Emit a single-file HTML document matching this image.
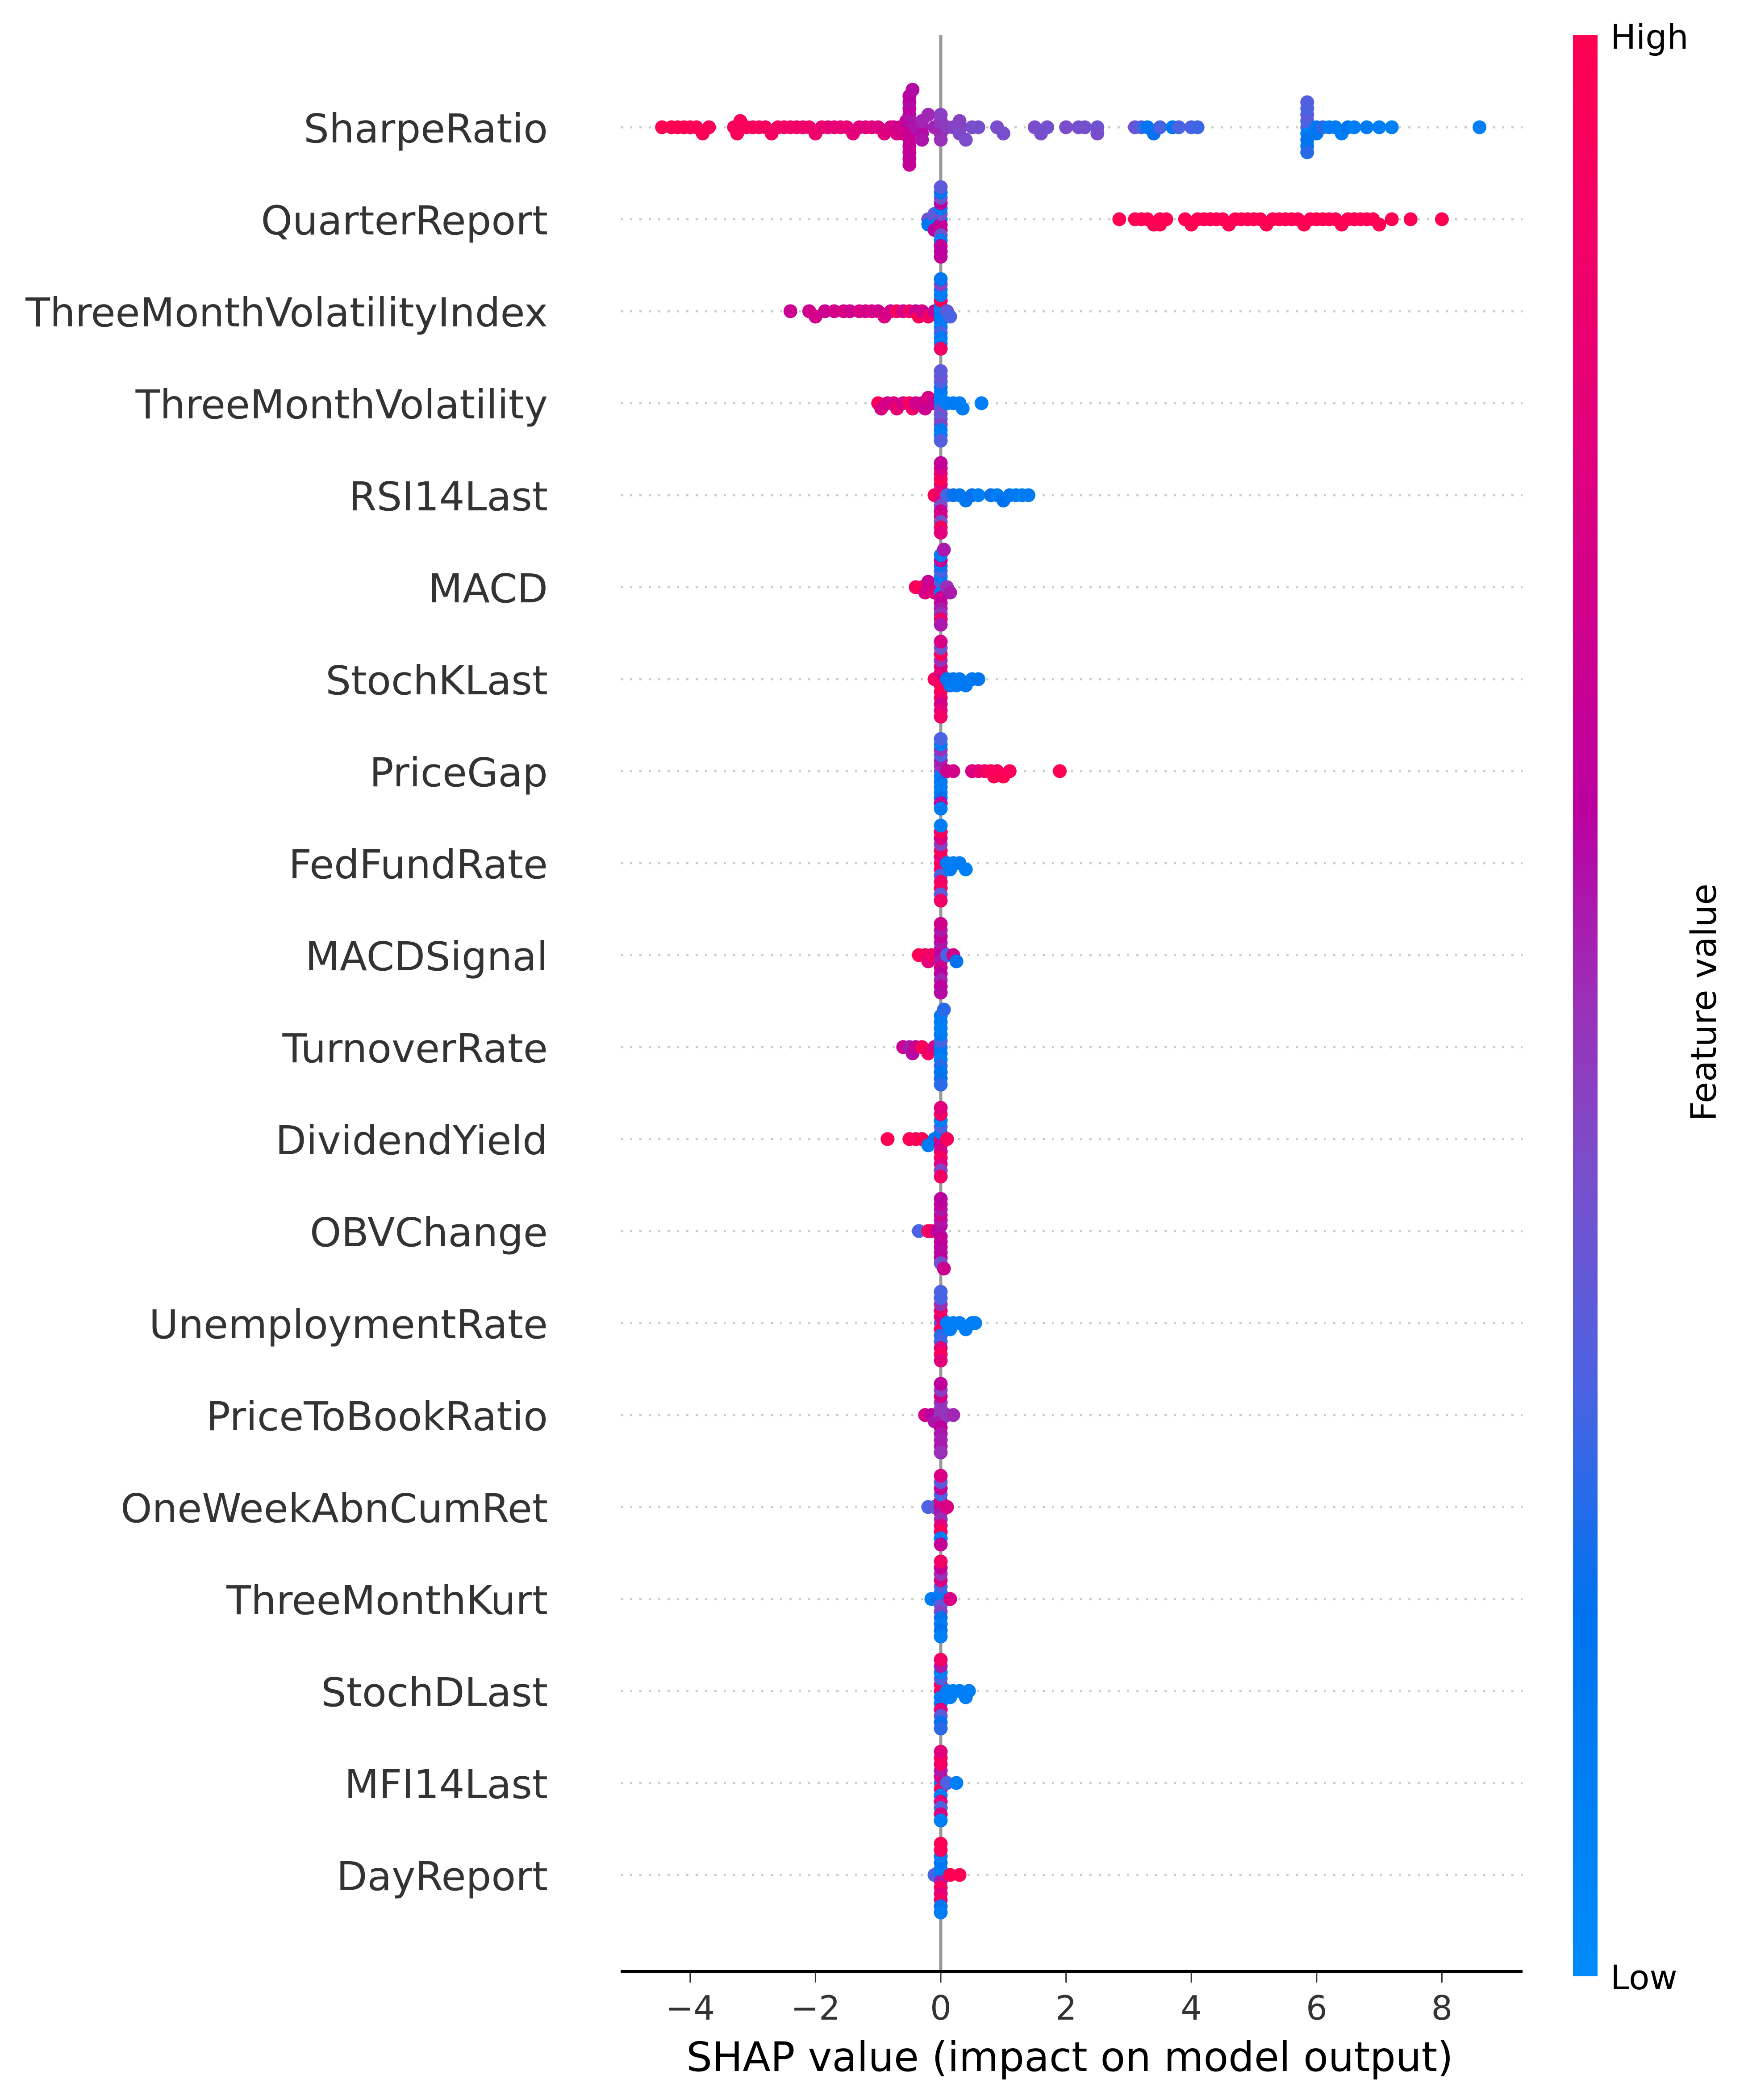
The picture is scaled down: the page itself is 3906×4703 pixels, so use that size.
<!DOCTYPE html>
<html><head><meta charset="utf-8"><style>
html,body{margin:0;padding:0;background:#fff;}
svg{display:block;}
text{font-family:"DejaVu Sans","Liberation Sans",sans-serif;}
</style></head><body>
<svg id="chart" width="3906" height="4703" viewBox="0 0 3906 4703" xmlns="http://www.w3.org/2000/svg">
<defs>
<linearGradient id="cbgrad" x1="0" y1="1" x2="0" y2="0">
<stop offset="0" stop-color="#008bfb"/><stop offset="0.19" stop-color="#0072ef"/><stop offset="0.3" stop-color="#4a63e3"/><stop offset="0.42" stop-color="#7b4dca"/><stop offset="0.5" stop-color="#9a30b8"/><stop offset="0.6" stop-color="#bb00a0"/><stop offset="0.8" stop-color="#e4007a"/><stop offset="1" stop-color="#ff0052"/>
</linearGradient>
</defs>
<g id="grid"></g>
<line x1="2107" y1="79" x2="2107" y2="4415" stroke="#999" stroke-width="7"/>
<g id="dots"></g>
<g id="ylabels"></g>
<line x1="1390" y1="4415" x2="3410" y2="4415" stroke="#000" stroke-width="6"/>
<g id="xticks"></g>
<text x="2396" y="4638" font-size="91" text-anchor="middle" fill="#000">SHAP value (impact on model output)</text>
<rect x="3523" y="79" width="55" height="4347" fill="url(#cbgrad)"/>
<text x="3607" y="109" font-size="76" fill="#000">High</text>
<text x="3607" y="4455" font-size="76" fill="#000">Low</text>
<text x="3843" y="2245" font-size="78" text-anchor="middle" fill="#000" transform="rotate(-90 3843 2245)">Feature value</text>
</svg>
<script>
const features = ["SharpeRatio","QuarterReport","ThreeMonthVolatilityIndex","ThreeMonthVolatility","RSI14Last","MACD","StochKLast","PriceGap","FedFundRate","MACDSignal","TurnoverRate","DividendYield","OBVChange","UnemploymentRate","PriceToBookRatio","OneWeekAbnCumRet","ThreeMonthKurt","StochDLast","MFI14Last","DayReport"];
const xTicks = [-4,-2,0,2,4,6,8];
const xTickLabels = ["\u22124","\u22122","0","2","4","6","8"];

const shap0 = [-4.45,-4.3,-4.2,-4.1,-4.0,-3.9,-3.8,-3.7,-3.3,-3.25,-3.2,-3.1,-3.0,-2.9,-2.8,-2.7,-2.6,-2.5,-2.4,-2.3,-2.2,-2.1,-2.0,-1.9,-1.8,-1.7,-1.6,-1.5,-1.4,-1.3,-1.2,-1.1,-1.0,-0.9,-0.8,-0.75,-0.7,-0.65,-0.6,-0.55,-0.5,-0.5,-0.5,-0.5,-0.5,-0.5,-0.5,-0.5,-0.5,-0.5,-0.5,-0.5,-0.45,-0.4,-0.3,-0.3,-0.3,-0.3,-0.2,-0.1,0,0,0,0,0,0.1,0.2,0.3,0.3,0.3,0.4,0.5,0.6,0.9,1.0,1.5,1.6,1.7,2.0,2.2,2.3,2.5,2.5,3.1,3.2,3.3,3.4,3.5,3.7,3.8,4.0,4.1,5.85,5.85,5.85,5.85,5.85,5.85,5.85,5.85,5.85,6.0,6.0,6.1,6.2,6.3,6.4,6.5,6.6,6.8,7.0,7.2,8.6];
const feat0 = [1,1,1,0.99,0.99,0.98,0.98,0.97,0.97,0.96,0.96,0.95,0.95,0.94,0.93,0.92,0.92,0.91,0.9,0.9,0.88,0.88,0.86,0.85,0.84,0.83,0.82,0.82,0.8,0.8,0.78,0.79,0.76,0.78,0.74,0.72,0.76,0.7,0.73,0.68,0.6,0.66,0.58,0.68,0.56,0.64,0.62,0.66,0.58,0.63,0.6,0.65,0.58,0.56,0.55,0.58,0.52,0.56,0.52,0.53,0.5,0.52,0.48,0.5,0.46,0.47,0.45,0.44,0.43,0.45,0.42,0.42,0.41,0.42,0.41,0.42,0.41,0.4,0.42,0.41,0.4,0.39,0.41,0.38,0.3,0.15,0.2,0.3,0.15,0.3,0.3,0.28,0.32,0.1,0.3,0.2,0.34,0.15,0.3,0.25,0.32,0.12,0.15,0.25,0.1,0.12,0.1,0.15,0.1,0.12,0.1,0.08,0.1,0.12,0.1];

const shap1 = [-0.2,-0.2,-0.1,-0.1,-0.1,-0.1,0,0,0,0,0,0,0,0,0,0,0,0,0,0,2.85,3.1,3.2,3.3,3.4,3.5,3.5,3.6,3.9,4.0,4.1,4.2,4.3,4.4,4.5,4.6,4.7,4.8,4.9,5.0,5.1,5.2,5.3,5.4,5.5,5.6,5.7,5.8,5.9,6.0,6.1,6.2,6.3,6.4,6.5,6.6,6.7,6.8,6.9,7.0,7.2,7.5,8.0];
const feat1 = [0.4,0.15,0.4,0.1,0.35,0.6,0.1,0.62,0.4,0.65,0.12,0.38,0.6,0.1,0.4,0.65,0.15,0.6,0.35,0.62,1,1,1,1,1,1,1,1,1,1,1,1,1,1,1,1,1,1,1,1,1,1,1,1,1,1,1,1,1,1,1,1,1,1,1,1,1,1,1,1,1,1,1];

const shap2 = [-2.4,-2.1,-2.0,-1.85,-1.7,-1.55,-1.45,-1.3,-1.2,-1.1,-1.0,-0.9,-0.8,-0.7,-0.6,-0.5,-0.4,-0.35,-0.3,-0.2,-0.1,0,0,0,0,0,0,0,0,0,0,0,0,0,0,0.1,0.15];
const feat2 = [0.68,0.7,0.72,0.68,0.72,0.74,0.7,0.76,0.72,0.74,0.7,0.76,0.72,0.95,0.72,0.9,0.68,0.98,0.7,0.9,0.65,0.1,0.15,0.08,0.12,0.95,0.1,0.14,0.3,0.1,0.12,0.45,0.1,0.15,0.9,0.35,0.3];

const shap3 = [-1.0,-0.95,-0.85,-0.75,-0.7,-0.6,-0.5,-0.45,-0.4,-0.3,-0.25,-0.2,-0.1,0,0,0,0,0,0,0,0,0,0,0,0,0,0,0.1,0.2,0.3,0.35,0.65];
const feat3 = [0.95,0.75,0.7,0.75,0.85,0.72,0.95,0.9,0.7,0.72,0.68,0.75,0.65,0.1,0.3,0.12,0.4,0.1,0.35,0.15,0.45,0.3,0.12,0.38,0.1,0.35,0.32,0.1,0.12,0.1,0.1,0.1];

const shap4 = [-0.1,0,0,0,0,0,0,0,0,0,0,0,0,0,0,0.1,0.2,0.3,0.4,0.5,0.6,0.8,0.9,1.0,1.1,1.2,1.3,1.4];
const feat4 = [0.95,0.95,0.75,0.9,0.42,0.8,0.68,1,0.72,0.9,0.4,0.75,0.95,0.65,0.8,0.3,0.2,0.15,0.15,0.2,0.1,0.2,0.1,0.18,0.15,0.12,0.1,0.12];

const shap5 = [-0.4,-0.3,-0.25,-0.2,-0.15,-0.1,0,0,0,0,0,0,0,0,0,0,0,0,0,0,0.05,0.1,0.15];
const feat5 = [0.95,1,0.75,0.65,0.7,0.8,0.7,0.1,0.3,0.7,0.12,0.65,0.3,0.55,0.2,0.5,0.65,0.9,0.1,0.55,0.55,0.5,0.55];

const shap6 = [-0.1,0,0,0,0,0,0,0,0,0,0,0,0,0,0.1,0.15,0.2,0.25,0.3,0.4,0.5,0.6];
const feat6 = [0.95,0.95,0.9,0.75,1,0.8,0.9,0.5,0.72,0.95,0.8,0.4,0.9,0.75,0.15,0.12,0.15,0.12,0.12,0.15,0.12,0.15];

const shap7 = [0,0,0,0,0,0,0,0,0,0,0,0,0,0,0.1,0.2,0.5,0.6,0.7,0.8,0.85,0.9,1.0,1.1,1.9];
const feat7 = [0.35,0.1,0.5,0.15,0.55,0.12,0.3,0.1,0.5,0.2,0.1,0.65,0.3,0.12,0.68,0.72,0.75,0.8,0.9,0.95,1,0.95,1,0.95,1];

const shap8 = [0,0,0,0,0,0,0,0,0,0,0,0,0,0.1,0.15,0.2,0.3,0.4];
const feat8 = [1,0.9,0.8,0.3,0.95,0.9,0.45,0.95,0.75,0.35,0.95,0.9,0.1,0.12,0.12,0.1,0.12,0.1];

const shap9 = [-0.35,-0.25,-0.2,-0.15,0,0,0,0,0,0,0,0,0,0,0,0,0.1,0.2,0.25];
const feat9 = [1,0.95,0.8,0.9,0.6,0.55,0.62,0.7,0.55,0.6,0.66,0.52,0.55,0.62,0.7,0.58,0.3,0.7,0.2];

const shap10 = [-0.6,-0.5,-0.45,-0.4,-0.3,-0.2,-0.1,0,0,0,0,0,0,0,0,0,0,0,0,0.05];
const feat10 = [0.68,0.55,0.58,0.65,0.95,0.9,0.75,0.1,0.15,0.3,0.1,0.12,0.25,0.1,0.15,0.1,0.2,0.12,0.25,0.25];

const shap11 = [-0.85,-0.5,-0.4,-0.3,-0.2,-0.1,0,0,0,0,0,0,0,0,0,0,0,0,0.1];
const feat11 = [1,1,0.95,1,0.1,0.15,0.9,0.65,0.15,0.75,0.3,0.95,0.1,0.8,0.9,0.45,0.8,0.9,0.95];

const shap12 = [-0.35,-0.2,-0.15,-0.05,0,0,0,0,0,0,0,0,0,0,0,0,0.05];
const feat12 = [0.3,0.95,0.9,0.6,0.62,0.58,0.66,0.56,0.62,0.7,0.58,0.55,0.62,0.64,0.4,0.6,0.68];

const shap13 = [0,0,0,0,0,0,0,0,0,0,0,0,0.1,0.15,0.2,0.3,0.4,0.5,0.55];
const feat13 = [0.3,0.95,0.75,0.25,0.9,0.28,0.5,0.8,0.3,0.95,0.3,0.8,0.1,0.1,0.1,0.1,0.1,0.1,0.1];

const shap14 = [-0.25,-0.15,-0.1,0,0,0,0,0,0,0,0,0,0,0,0,0.1,0.2];
const feat14 = [0.72,0.6,0.56,0.45,0.55,0.5,0.62,0.48,0.56,0.72,0.53,0.46,0.55,0.62,0.5,0.48,0.52];

const shap15 = [-0.2,-0.1,0,0,0,0,0,0,0,0,0,0,0,0,0.1];
const feat15 = [0.3,0.35,0.65,0.55,0.75,0.5,0.3,0.8,0.65,0.95,0.35,0.1,0.75,0.65,0.75];

const shap16 = [-0.15,-0.05,0,0,0,0,0,0,0,0,0,0,0,0,0.15];
const feat16 = [0.1,0.2,0.35,0.1,0.45,0.3,0.2,0.75,0.12,0.5,0.19,0.65,0.1,0.9,0.75];

const shap17 = [0,0,0,0,0,0,0,0,0,0,0,0,0.1,0.15,0.2,0.3,0.4,0.45];
const feat17 = [0.95,0.1,0.9,0.15,0.3,0.8,0.1,0.35,0.55,0.2,0.9,0.25,0.1,0.1,0.1,0.1,0.1,0.1];

const shap18 = [0,0,0,0,0,0,0,0,0,0,0,0,0.1,0.25];
const feat18 = [0.1,0.95,0.75,0.1,0.55,0.8,0.9,0.3,0.95,0.75,0.8,0.1,0.3,0.1];

const shap19 = [-0.1,0,0,0,0,0,0,0,0,0,0,0,0,0.15,0.3];
const feat19 = [0.3,0.1,0.55,0.1,0.95,0.15,0.8,0.1,0.9,0.95,0.2,1,0.1,1,1];

const shapRows = [shap0,shap1,shap2,shap3,shap4,shap5,shap6,shap7,shap8,shap9,shap10,shap11,shap12,shap13,shap14,shap15,shap16,shap17,shap18,shap19];
const featRows = [feat0,feat1,feat2,feat3,feat4,feat5,feat6,feat7,feat8,feat9,feat10,feat11,feat12,feat13,feat14,feat15,feat16,feat17,feat18,feat19];

const NS = "http://www.w3.org/2000/svg";
const X0 = 2107, XU = 140.3, Y0 = 285, RH = 206, HALF = 84;
function xScale(v){ return X0 + v*XU; }
function yScale(i){ return Y0 + i*RH; }
const stops = [[0,[0,139,251]],[0.19,[0,114,239]],[0.3,[74,99,227]],[0.42,[123,77,202]],[0.5,[154,48,184]],[0.6,[187,0,160]],[0.8,[228,0,122]],[1,[255,0,82]]];
function cmap(t){
  t=Math.max(0,Math.min(1,t));
  for(let k=1;k<stops.length;k++){
    if(t<=stops[k][0]){
      const a=stops[k-1],b=stops[k],u=(t-a[0])/(b[0]-a[0]);
      const c=a[1].map((v,j)=>Math.round(v+(b[1][j]-v)*u));
      return "rgb("+c.join(",")+")";
    }
  }
  return "rgb(255,0,82)";
}
const grid=document.getElementById('grid'), dots=document.getElementById('dots'), yl=document.getElementById('ylabels'), xt=document.getElementById('xticks');
features.forEach((name,i)=>{
  const y=yScale(i);
  const g=document.createElementNS(NS,'line');
  
  
  g.setAttribute('x1',1390);g.setAttribute('x2',3410);g.setAttribute('y1',y);g.setAttribute('y2',y);
  g.setAttribute('stroke','#cccccc');g.setAttribute('stroke-width',5);g.setAttribute('stroke-dasharray','5 16');
  grid.appendChild(g);
  const t=document.createElementNS(NS,'text');
  
  
  t.setAttribute('x',1227);t.setAttribute('y',y+34);t.setAttribute('font-size',89.5);t.setAttribute('text-anchor','end');t.setAttribute('fill','#333');
  t.textContent=name;
  yl.appendChild(t);
  const vals=shapRows[i], fv=featRows[i];
  const bins={}; const layer=[];
  vals.forEach((v,k)=>{
    const b=Math.round(v/0.12);
    const n=bins[b]||0; bins[b]=n+1;
    layer.push(n===0?0:(Math.ceil(n/2)*(n%2?1:-1)));
  });
  let maxL=1; layer.forEach(l=>{ if(Math.abs(l)>maxL) maxL=Math.abs(l); });
  const sc=Math.min(HALF/maxL, 22);
  vals.forEach((v,k)=>{
    const c=document.createElementNS(NS,'circle');
    
    
    c.setAttribute('cx',xScale(v));c.setAttribute('cy',y+layer[k]*sc);c.setAttribute('r',15.5);
    c.setAttribute('fill',cmap(fv[k]));
    dots.appendChild(c);
  });
});
xTicks.forEach((v,k)=>{
  const x=xScale(v);
  const l=document.createElementNS(NS,'line');
  
  
  l.setAttribute('x1',x);l.setAttribute('x2',x);l.setAttribute('y1',4418);l.setAttribute('y2',4440);l.setAttribute('stroke','#333');l.setAttribute('stroke-width',3);
  xt.appendChild(l);
  const t=document.createElementNS(NS,'text');
  
  
  t.setAttribute('x',x);t.setAttribute('y',4523);t.setAttribute('font-size',75);t.setAttribute('text-anchor','middle');t.setAttribute('fill','#333');
  t.textContent=xTickLabels[k];
  xt.appendChild(t);
});
</script>
</body></html>
